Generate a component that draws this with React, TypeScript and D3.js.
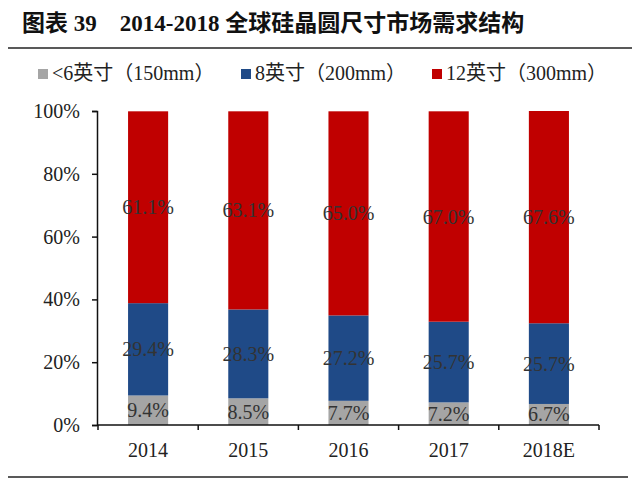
import { useEffect, useRef } from 'react';
import * as d3 from 'd3';

const years = ['2014', '2015', '2016', '2017', '2018E'];
const seriesNames = ['<6英寸（150mm）', '8英寸（200mm）', '12英寸（300mm）'];
const small = [9.4, 8.5, 7.7, 7.2, 6.7];
const mid = [29.4, 28.3, 27.2, 25.7, 25.7];
const large = [61.1, 63.1, 65.0, 67.0, 67.6];
const yTicks = [0, 20, 40, 60, 80, 100];
const colors = ['#A5A5A5', '#1F4A87', '#C00000'];

const serif = '"Liberation Serif", "Times New Roman", "Noto Sans CJK SC", serif';

export default function App() {
  const ref = useRef<SVGSVGElement>(null);

  useEffect(() => {
    if (!ref.current) return;
    const svg = d3.select(ref.current);
    svg.selectAll('*').remove();

    const width = 640;
    const height = 478;
    svg.attr('width', width).attr('height', height);

    // title + rules
    svg.append('text')
      .attr('x', 22).attr('y', 31)
      .attr('font-family', serif).attr('font-weight', 'bold').attr('font-size', 23)
      .attr('fill', '#111')
      .style('white-space', 'pre')
      .text('图表 39    2014-2018 全球硅晶圆尺寸市场需求结构');
    svg.append('line').attr('x1', 8).attr('x2', 632).attr('y1', 48).attr('y2', 48)
      .attr('stroke', '#222').attr('stroke-width', 1.5);
    svg.append('line').attr('x1', 8).attr('x2', 628).attr('y1', 477).attr('y2', 477)
      .attr('stroke', '#222').attr('stroke-width', 1.5);

    // legend
    const legendX = [38, 241, 432];
    seriesNames.forEach((name, i) => {
      const g = svg.append('g').attr('transform', `translate(${legendX[i]},73)`);
      g.append('rect').attr('x', 0).attr('y', -4).attr('width', 10).attr('height', 10).attr('fill', colors[i]);
      g.append('text').attr('x', 14).attr('y', 7)
        .attr('font-family', serif).attr('font-size', 20).attr('fill', '#222')
        .text(name);
    });

    const x = d3.scaleBand().domain(years).range([98, 599]).paddingInner(0.6).paddingOuter(0.3);
    const y = d3.scaleLinear().domain([0, 100]).range([425, 111]);

    const rows = years.map((yr, i) => ({ year: yr, vals: [small[i], mid[i], large[i]] }));
    const stack = d3.stack<{ year: string; vals: number[] }, number>()
      .keys([0, 1, 2])
      .value((d, k) => d.vals[k]);
    const layers = stack(rows);

    layers.forEach((layer, li) => {
      svg.append('g').selectAll('rect').data(layer).join('rect')
        .attr('x', (d) => x(d.data.year) ?? 0)
        .attr('width', x.bandwidth())
        .attr('y', (d) => y(Math.min(d[1], 100)))
        .attr('height', (d) => y(d[0]) - y(Math.min(d[1], 100)))
        .attr('fill', colors[li]);
    });
    layers.forEach((layer) => {
      svg.append('g').selectAll('text').data(layer).join('text')
        .attr('x', (d) => (x(d.data.year) ?? 0) + x.bandwidth() / 2)
        .attr('y', (d) => (y(d[0]) + y(Math.min(d[1], 100))) / 2 + 7)
        .attr('text-anchor', 'middle')
        .attr('font-family', serif).attr('font-size', 20).attr('fill', '#333')
        .text((d) => `${(d[1] - d[0]).toFixed(1)}%`);
    });

    // y axis
    const yAxis = svg.append('g').attr('transform', 'translate(97,0)')
      .call(d3.axisLeft(y).tickValues(yTicks).tickSize(5).tickFormat((d) => `${d}%`));
    yAxis.select('.domain').attr('stroke', '#111').attr('stroke-width', 1.5);
    yAxis.selectAll('.tick line').attr('stroke', '#111').attr('stroke-width', 1.5);
    yAxis.selectAll('.tick text').attr('font-family', serif).attr('font-size', 20).attr('fill', '#222')
      .attr('x', -17);

    // x axis
    const xAxis = svg.append('g').attr('transform', 'translate(0,425)');
    xAxis.append('line').attr('x1', 97).attr('x2', 599).attr('stroke', '#111').attr('stroke-width', 1.5);
    const step = x.step();
    const start = (x(years[0]) ?? 0) - step * 0.3;
    const edges = d3.range(years.length + 1).map((i) => start + i * step);
    xAxis.selectAll('line.tk').data(edges).join('line').attr('class', 'tk')
      .attr('x1', (d) => d).attr('x2', (d) => d).attr('y1', 0).attr('y2', 5)
      .attr('stroke', '#111').attr('stroke-width', 1.5);
    xAxis.selectAll('text').data(years).join('text')
      .attr('x', (d) => (x(d) ?? 0) + x.bandwidth() / 2)
      .attr('y', 32)
      .attr('text-anchor', 'middle')
      .attr('font-family', serif).attr('font-size', 20).attr('fill', '#222')
      .text((d) => d);
  }, []);

  return <svg ref={ref} style={{ position: 'absolute', left: 0, top: 0, background: '#fff' }} />;
}
